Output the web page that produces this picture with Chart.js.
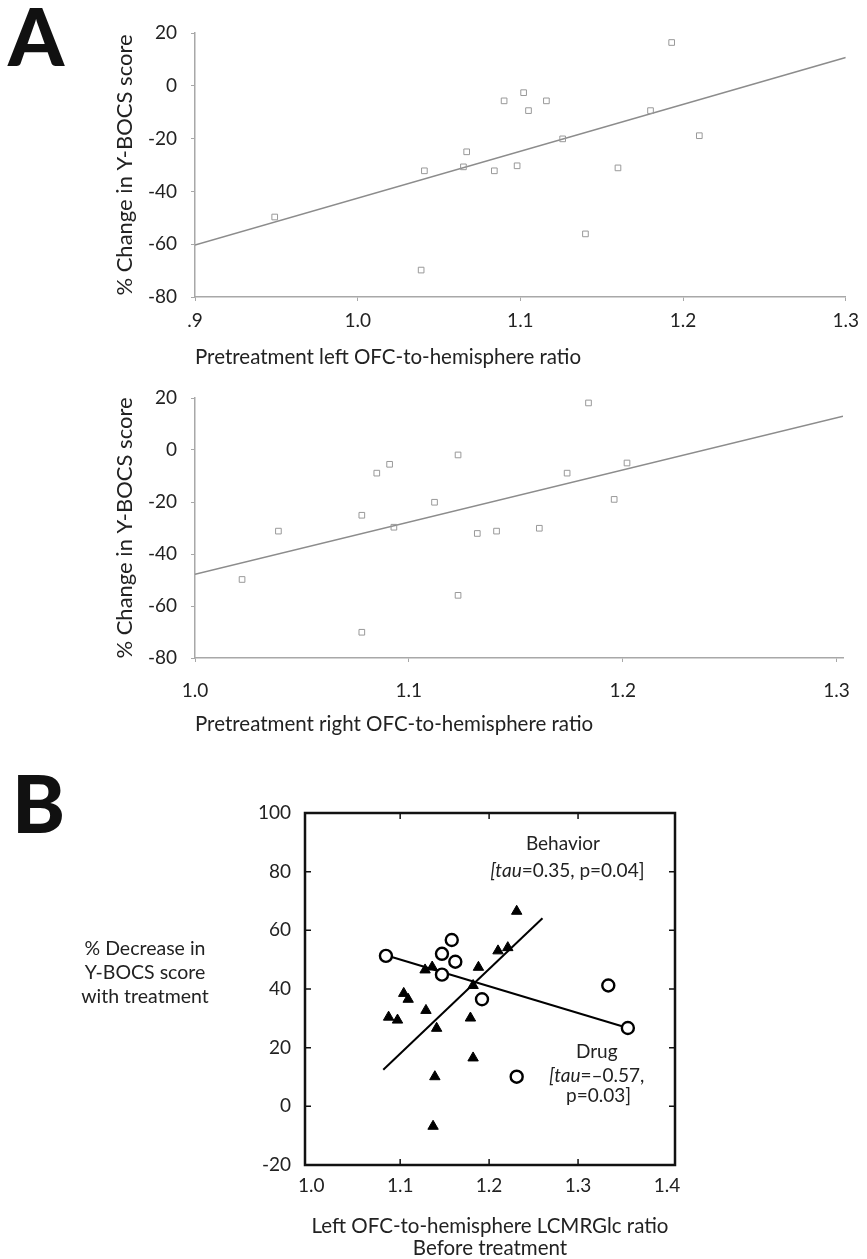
<!DOCTYPE html>
<html>
<head>
<meta charset="utf-8">
<script src="https://cdn.jsdelivr.net/npm/chart.js@4.4.1/dist/chart.umd.min.js"></script>
<style>
  html, body { margin: 0; padding: 0; background: #fff; overflow: hidden; }
  #page { position: relative; width: 867px; height: 1259px; }
  canvas { position: absolute; left: 0; }
  .panel { position: absolute; font-family: Lato, sans-serif; font-weight: 900; font-size: 80px; line-height: 80px; color: #111; }
  #ylabB { position: absolute; left: 45px; width: 200px; top: 936px; text-align: center;
           font-family: Lato, sans-serif; font-size: 19.5px; line-height: 24px; color: #222; }
</style>
</head>
<body>
<div id="page">
  <div class="panel" style="left:8px; top:-5px;">A</div>
  <div class="panel" style="left:12px; top:762px;">B</div>
  <canvas id="chartA1" width="867" height="380" style="top:0px"></canvas>
  <canvas id="chartA2" width="867" height="380" style="top:370px"></canvas>
  <canvas id="chartB" width="867" height="479" style="top:780px"></canvas>
  <div id="ylabB">% Decrease in<br>Y-BOCS score<br>with treatment</div>
</div>
<script>
// Panel A (top): pretreatment left OFC ratio vs % change in Y-BOCS
const leftRatio = [0.949, 1.041, 1.039, 1.067, 1.065, 1.084, 1.090, 1.102, 1.105, 1.116, 1.098, 1.126, 1.180, 1.193, 1.210, 1.160, 1.140];
const leftChange = [-49.7, -32.2, -69.8, -25.0, -30.7, -32.2, -5.7, -2.6, -9.4, -5.7, -30.3, -20.1, -9.4, 16.4, -18.9, -31.1, -56.1];
const leftFitX = [0.9, 1.3];
const leftFitY = [-60.3, 10.7];

// Panel A (bottom): pretreatment right OFC ratio
const rightRatio = [1.022, 1.039, 1.078, 1.078, 1.085, 1.091, 1.093, 1.112, 1.123, 1.123, 1.132, 1.141, 1.161, 1.174, 1.184, 1.196, 1.202];
const rightChange = [-49.8, -31.2, -25.1, -70.1, -8.9, -5.5, -29.7, -20.1, -1.9, -55.9, -32.1, -31.2, -30.1, -8.9, 18.1, -19.0, -5.0];
const rightFitX = [1.0, 1.303];
const rightFitY = [-47.8, 13.0];

// Panel B: drug (open circles) and behaviour (triangles)
const drugRatio = [1.084, 1.147, 1.158, 1.162, 1.147, 1.192, 1.334, 1.356, 1.231];
const drugDecrease = [51.3, 52.0, 56.7, 49.3, 44.9, 36.5, 41.2, 26.7, 10.1];
const drugFitX = [1.084, 1.356];
const drugFitY = [51.5, 26.7];
const behavRatio = [1.087, 1.097, 1.104, 1.109, 1.129, 1.128, 1.136, 1.141, 1.139, 1.137, 1.179, 1.182, 1.182, 1.188, 1.210, 1.221, 1.231];
const behavDecrease = [30.4, 29.4, 38.5, 36.5, 32.7, 46.5, 47.5, 26.6, 10.1, -6.8, 30.1, 16.5, 41.2, 47.4, 53.0, 54.1, 66.5];
const behavFitX = [1.081, 1.260];
const behavFitY = [12.5, 64.1];

// tick values / labels
const yTicksA = [-80, -60, -40, -20, 0, 20];
const xTicksA1 = [0.9, 1.0, 1.1, 1.2, 1.3];
const xLabelsA1 = ['.9', '1.0', '1.1', '1.2', '1.3'];
const xTicksA2 = [1.0, 1.1, 1.2, 1.3];
const xLabelsA2 = ['1.0', '1.1', '1.2', '1.3'];
const yTicksB = [-20, 0, 20, 40, 60, 80, 100];
const xTicksB = [1.0, 1.1, 1.2, 1.3, 1.4];
const xLabelsB = ['1.0', '1.1', '1.2', '1.3', '1.4'];

const axisGray = '#a8a8a8';
const textCol = '#222';
const fontFam = 'Lato, sans-serif';

function toPoints(xs, ys) {
    return xs.map((x, i) => ({ x: x, y: ys[i] }));
}

// both A panels share the same look, only sizes differ
function makePanelA(canvasId, xs, ys, fitX, fitY, xTicks, xLabels, xMax, xTitle, lay) {
    new Chart(document.getElementById(canvasId), {
        type: 'scatter',
        data: {
            datasets: [
                { data: toPoints(xs, ys), pointStyle: 'rect', pointRadius: 4,
                  borderColor: '#999', backgroundColor: 'rgba(255,255,255,0)', borderWidth: 1 },
                { type: 'line', data: toPoints(fitX, fitY), borderColor: '#8c8c8c',
                  borderWidth: 1.5, pointRadius: 0, fill: false }
            ]
        },
        options: {
            responsive: false,
            animation: false,
            events: [],
            layout: { padding: { top: lay.top, right: lay.right, left: 100, bottom: 0 } },
            plugins: { legend: { display: false }, tooltip: { enabled: false } },
            scales: {
                x: {
                    type: 'linear', min: xTicks[0], max: xMax,
                    afterBuildTicks: s => { s.ticks = xTicks.map(v => ({ value: v })); },
                    afterFit: s => { s.height = lay.xAxisH; },
                    ticks: { callback: (v, i) => xLabels[i], padding: lay.tickPad, color: textCol,
                             font: { family: fontFam, size: 19 }, maxRotation: 0, autoSkip: false },
                    grid: { drawOnChartArea: false, tickLength: 4, color: axisGray },
                    border: { color: axisGray, width: 1.5 },
                    title: { display: true, text: xTitle, align: 'start', color: textCol,
                             font: { family: fontFam, size: 20.5 }, padding: { top: 0, bottom: lay.titlePad } }
                },
                y: {
                    min: -80, max: 20,
                    afterBuildTicks: s => { s.ticks = yTicksA.map(v => ({ value: v })); },
                    afterFit: s => { s.width = 95; },
                    ticks: { padding: 14, color: textCol, font: { family: fontFam, size: 19 } },
                    grid: { drawOnChartArea: false, tickLength: 4, color: axisGray },
                    border: { color: axisGray, width: 1.5 },
                    title: { display: true, text: '% Change in Y-BOCS score', color: textCol,
                             font: { family: fontFam, size: 22 }, padding: { top: 12, bottom: 0 } }
                }
            }
        }
    });
}

makePanelA('chartA1', leftRatio, leftChange, leftFitX, leftFitY, xTicksA1, xLabelsA1, 1.3,
    'Pretreatment left OFC-to-hemisphere ratio',
    { top: 33, right: 12, xAxisH: 83, tickPad: 8, titlePad: 10 });

makePanelA('chartA2', rightRatio, rightChange, rightFitX, rightFitY, xTicksA2, xLabelsA2, 1.303,
    'Pretreatment right OFC-to-hemisphere ratio',
    { top: 28, right: 15, xAxisH: 92, tickPad: 17, titlePad: 13 });

// box frame with inward tick marks for panel B
const frameB = {
    id: 'frameB',
    afterDraw(chart) {
        const { ctx, chartArea: a, scales } = chart;
        ctx.save();
        ctx.strokeStyle = '#111';
        ctx.lineWidth = 1.5;
        [1.1, 1.2, 1.3].forEach(v => {
            const px = scales.x.getPixelForValue(v);
            ctx.beginPath();
            ctx.moveTo(px, a.top); ctx.lineTo(px, a.top + 6);
            ctx.moveTo(px, a.bottom); ctx.lineTo(px, a.bottom - 6);
            ctx.stroke();
        });
        [0, 20, 40, 60, 80].forEach(v => {
            const py = scales.y.getPixelForValue(v);
            ctx.beginPath();
            ctx.moveTo(a.left, py); ctx.lineTo(a.left + 6, py);
            ctx.moveTo(a.right, py); ctx.lineTo(a.right - 6, py);
            ctx.stroke();
        });
        ctx.lineWidth = 2.5;
        ctx.strokeRect(a.left, a.top, a.right - a.left, a.bottom - a.top);
        ctx.restore();
    }
};

// correlation labels, with "[tau" in italics
const notesB = {
    id: 'notesB',
    afterDraw(chart) {
        const { ctx, scales } = chart;
        const plain = '19px ' + fontFam;
        const ital = 'italic 19px ' + fontFam;
        function line(parts, xv, yv) {
            const cx = scales.x.getPixelForValue(xv);
            const cy = scales.y.getPixelForValue(yv);
            let total = 0;
            parts.forEach(p => { ctx.font = p[1] ? ital : plain; total += ctx.measureText(p[0]).width; });
            let x = cx - total / 2;
            parts.forEach(p => {
                ctx.font = p[1] ? ital : plain;
                ctx.fillText(p[0], x, cy);
                x += ctx.measureText(p[0]).width;
            });
        }
        ctx.save();
        ctx.fillStyle = textCol;
        ctx.textBaseline = 'middle';
        ctx.textAlign = 'left';
        line([['Behavior', false]], 1.283, 89.5);
        line([['[tau', true], ['=0.35, p=0.04]', false]], 1.288, 80.3);
        line([['Drug', false]], 1.321, 18.6);
        line([['[tau', true], ['=\u20130.57,', false]], 1.321, 10.5);
        line([['p=0.03]', false]], 1.323, 3.7);
        ctx.restore();
    }
};

new Chart(document.getElementById('chartB'), {
    type: 'scatter',
    data: {
        datasets: [
            { label: 'Drug', data: toPoints(drugRatio, drugDecrease), pointStyle: 'circle', pointRadius: 6,
              borderColor: '#000', backgroundColor: '#fff', borderWidth: 2.4 },
            { label: 'Behavior', data: toPoints(behavRatio, behavDecrease), pointStyle: 'triangle', pointRadius: 6,
              borderColor: '#000', backgroundColor: '#000', borderWidth: 1 },
            { type: 'line', data: toPoints(drugFitX, drugFitY), borderColor: '#000', borderWidth: 2, pointRadius: 0 },
            { type: 'line', data: toPoints(behavFitX, behavFitY), borderColor: '#000', borderWidth: 2, pointRadius: 0 }
        ]
    },
    options: {
        responsive: false,
        animation: false,
        events: [],
        layout: { padding: { top: 33, right: 192, left: 240, bottom: 0 } },
        plugins: { legend: { display: false }, tooltip: { enabled: false } },
        scales: {
            x: {
                type: 'linear', min: 0.993, max: 1.409,
                afterBuildTicks: s => { s.ticks = xTicksB.map(v => ({ value: v })); },
                afterFit: s => { s.height = 94; },
                ticks: { callback: (v, i) => xLabelsB[i], padding: 9, color: textCol,
                         font: { family: fontFam, size: 19 }, maxRotation: 0, autoSkip: false },
                grid: { drawOnChartArea: false, drawTicks: false },
                border: { display: false },
                title: { display: true, align: 'center', color: textCol,
                         text: ['Left OFC-to-hemisphere LCMRGlc ratio', 'Before treatment'],
                         font: { family: fontFam, size: 20.5, lineHeight: 1.07 }, padding: { top: 0, bottom: 0 } }
            },
            y: {
                min: -20, max: 100,
                afterBuildTicks: s => { s.ticks = yTicksB.map(v => ({ value: v })); },
                afterFit: s => { s.width = 65; },
                ticks: { padding: 14, color: textCol, font: { family: fontFam, size: 19 } },
                grid: { drawOnChartArea: false, drawTicks: false },
                border: { display: false }
            }
        }
    },
    plugins: [frameB, notesB]
});
</script>
</body>
</html>
